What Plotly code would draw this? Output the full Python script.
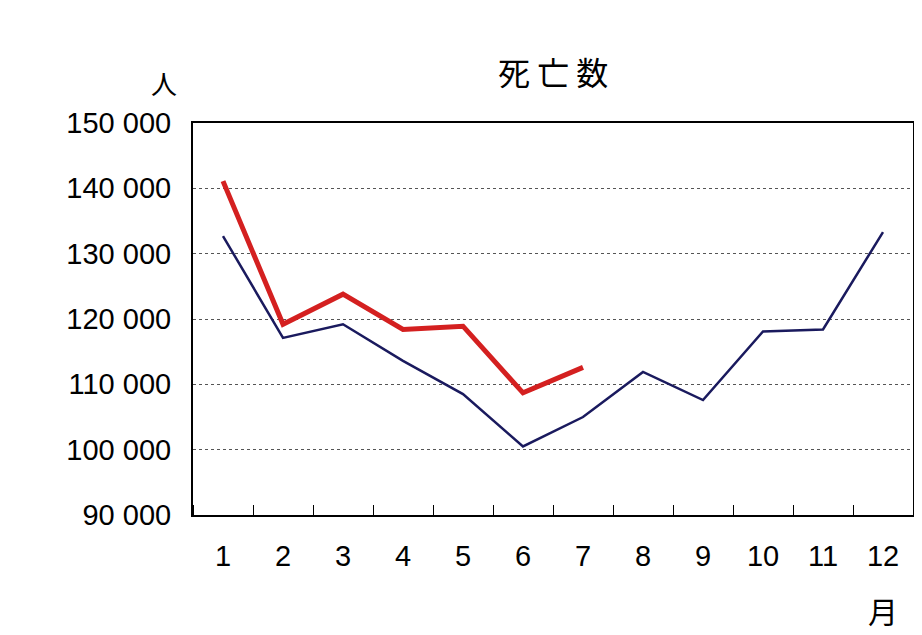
import plotly.graph_objects as go

months = list(range(1, 13))
month_labels = [str(m) for m in months]
deaths_prev = [132700, 117100, 119200, 113600, 108500, 100500, 105000, 111900, 107600, 118100, 118400, 133300]
months_cur = list(range(1, 8))
deaths_cur = [141100, 119200, 123800, 118400, 118900, 108700, 112600]
y_ticks = [90000, 100000, 110000, 120000, 130000, 140000, 150000]
y_labels = ["90 000", "100 000", "110 000", "120 000", "130 000", "140 000", "150 000"]

fig = go.Figure()
fig.add_trace(go.Scatter(x=months, y=deaths_prev, mode="lines",
                         line=dict(color="#1a1a5e", width=2.5)))
fig.add_trace(go.Scatter(x=months_cur, y=deaths_cur, mode="lines",
                         line=dict(color="#d42020", width=5)))

fig.update_layout(
    width=922, height=635,
    margin=dict(l=185, r=17, t=115, b=128),
    paper_bgcolor="white", plot_bgcolor="white",
    showlegend=False,
    font=dict(family="Liberation Sans, Arial, sans-serif", size=29, color="black"),
    xaxis=dict(range=[0.5, 12.5], tickvals=months, ticktext=month_labels,
               showgrid=False, ticks="", showline=True, linecolor="black",
               linewidth=2, mirror=True, zeroline=False, automargin=False,
               ticklabelstandoff=14,
               minor=dict(tick0=0.5, dtick=1, ticks="inside", ticklen=10,
                          tickcolor="black", showgrid=False)),
    yaxis=dict(range=[90000, 150000], tickvals=y_ticks, ticktext=y_labels,
               showgrid=True, gridcolor="#555", griddash="dot", gridwidth=1,
               ticks="", showline=True, linecolor="black", linewidth=2,
               mirror=True, zeroline=False, automargin=False,
               ticklabelstandoff=14),
    annotations=[
        dict(text="死 亡 数", x=0.5, y=1.07, xref="paper", yref="paper",
             showarrow=False, font=dict(size=32, family="Noto Sans CJK JP"),
             xanchor="center", yanchor="bottom"),
        dict(text="人", x=-0.04, y=1.05, xref="paper", yref="paper",
             showarrow=False, font=dict(size=26, family="Noto Sans CJK JP"),
             xanchor="center", yanchor="bottom"),
        dict(text="月", x=12, y=-0.18, xref="x", yref="paper",
             showarrow=False, font=dict(size=30, family="Noto Sans CJK JP"),
             xanchor="center", yanchor="top"),
    ],
)

fig.write_html("out.html")
